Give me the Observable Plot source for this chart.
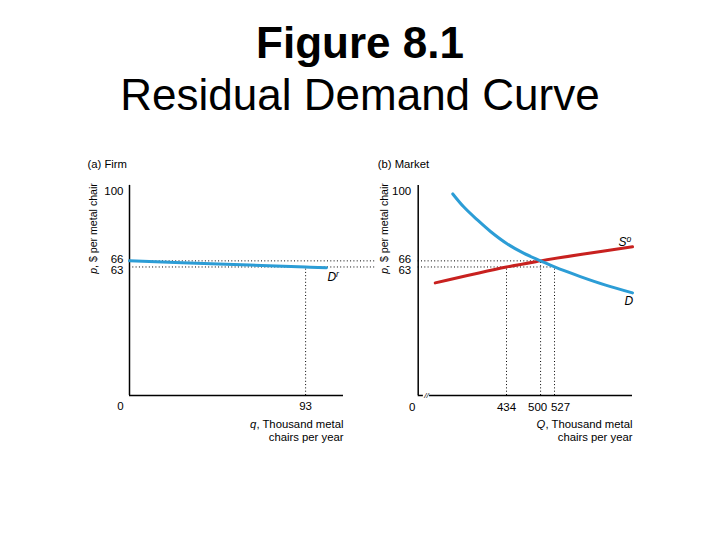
<!DOCTYPE html>
<html>
<head>
<meta charset="utf-8">
<script src="https://cdn.jsdelivr.net/npm/d3@7"></script>
<script src="https://cdn.jsdelivr.net/npm/@observablehq/plot@0.6"></script>
<style>
  html, body { margin: 0; padding: 0; background: #fff; }
  #page { position: relative; width: 720px; height: 540px; overflow: hidden;
          font-family: "Liberation Sans", Arial, Helvetica, sans-serif; color: #000; }
  .title { position: absolute; left: 0; top: 17px; width: 720px; text-align: center;
           font-size: 44px; line-height: 52px; }
  .title b { font-weight: bold; }
  .panel { position: absolute; top: 140px; height: 320px; overflow: visible; }
  .panel svg { overflow: visible; }
</style>
</head>
<body>
<div id="page">
  <div class="title"><b>Figure 8.1</b><br>Residual Demand Curve</div>
  <div class="panel" id="firm" style="left:0;width:420px"></div>
  <div class="panel" id="market" style="left:360px;width:360px"></div>
</div>
<script>
// ---- shared price axis (dollars per metal chair) ----
const priceTicks = [100, 66, 63];
const priceAxisTop = 103;
const priceLabel = "_p_, $ per metal chair";

// ---- (a) the firm's residual demand ----
const firmTitle = "(a) Firm";
const firmQ = [0, 47, 93, 104];
const firmP = [66, 64.5, 63, 62.6];
const firmQTicks = [93];
const firmQAxisEnd = 113;
const firmQFrameEnd = 130.7;   // price guides run on toward the market panel
const firmCurveLabel = "D^r";
const firmXLabel = "_q_, Thousand metal\nchairs per year";

// ---- (b) the market: demand D and other firms' supply S° ----
const marketTitle = "(b) Market";
const demandQ = [330, 351, 377, 403, 435, 467, 500, 527, 577, 626, 678];
const demandP = [98.8, 92.5, 86.2, 80.4, 74.4, 69.8, 66, 63, 58.3, 54.1, 50.3];
const supplyQ = [296, 434, 500, 577, 678];
const supplyP = [55.2, 63, 66, 69.1, 72.9];
const marketQTicks = [434, 500, 527];
const marketQ0 = 263;          // broken axis: origin stands in for 0
const marketQEnd = 678;
const marketBreak = [273, 285];
const demandLabel = "D";
const supplyLabel = "S^o";
const marketXLabel = "_Q_, Thousand metal\nchairs per year";

// equilibrium and the quantities supplied / demanded at p = 63
const eqP = 66, eqQ = 500;
const lowP = 63, lowSupplyQ = 434, lowDemandQ = 527;

// ---- styles ----
const blue = "#2c9dd6";
const red = "#c8211f";
const font = "'Liberation Sans', Arial, Helvetica, sans-serif";
const dotted = {stroke: "#000", strokeWidth: 1, strokeDasharray: "1,2.3"};
const axisLine = {stroke: "#000", strokeWidth: 1.5};
const tickFont = 11.5;
const textFont = 11.3;
const sideFont = 10.6;

const pts = (qs, ps) => qs.map((q, i) => ({q, p: ps[i]}));
const firmPts = pts(firmQ, firmP);
const demandPts = pts(demandQ, demandP);
const supplyPts = pts(supplyQ, supplyP);

function priceAxis(pad) {
  const o = {tickSize: 0, tickPadding: pad, fontSize: tickFont, label: null};
  return [
    Plot.axisY([priceTicks[0]], o),
    Plot.axisY([priceTicks[1]], {...o, dy: -2}),
    Plot.axisY([priceTicks[2]], {...o, dy: 3})
  ];
}

// rotated price label and the panel heading, both placed from the frame's top-left corner
function panelLabels(title, dxLabel, dxTitle) {
  return [
    Plot.text([priceLabel], {frameAnchor: "top-left", text: d => d, rotate: -90,
      textAnchor: "middle", lineAnchor: "middle", dx: dxLabel, dy: 37, fontSize: sideFont}),
    Plot.text([title], {frameAnchor: "top-left", text: d => d, textAnchor: "start",
      lineAnchor: "middle", dx: dxTitle, dy: -27, fontSize: textFont})
  ];
}

const common = {
  height: 320, marginTop: 51, marginBottom: 65,
  y: {domain: [0, 100]},
  style: {fontFamily: font, fontSize: tickFont + "px", background: "transparent", overflow: "visible"}
};

// (a) Firm
const firmPlot = Plot.plot({
  ...common,
  width: 420, marginLeft: 129, marginRight: 43.5,
  x: {domain: [0, firmQFrameEnd]},
  marks: [
    Plot.ruleY([eqP, lowP], dotted),
    Plot.ruleX([{q: firmQTicks[0], p: lowP}], {x: "q", y1: 0, y2: "p", ...dotted}),
    Plot.ruleX([0], {y1: 0, y2: priceAxisTop, ...axisLine}),
    Plot.ruleY([0], {x1: 0, x2: firmQAxisEnd, ...axisLine}),
    Plot.line(firmPts, {x: "q", y: "p", stroke: blue, strokeWidth: 3, curve: "catmull-rom"}),
    Plot.text([firmPts[firmPts.length - 1]], {x: "q", y: "p", text: () => firmCurveLabel,
      textAnchor: "start", dx: 1, dy: 9, fontStyle: "italic", fontSize: 12}),
    ...priceAxis(6),
    Plot.axisX(firmQTicks, {tickSize: 0, tickPadding: 6, fontSize: tickFont, label: null}),
    Plot.axisX([0], {tickSize: 0, tickPadding: 6, dx: -9, fontSize: tickFont, label: null}),
    Plot.text([firmXLabel], {x: firmQAxisEnd, y: 0, text: d => d, textAnchor: "end",
      lineAnchor: "top", dy: 23.5, lineHeight: 1.16, fontSize: textFont}),
    ...panelLabels(firmTitle, -35.5, -42)
  ]
});

// (b) Market
const marketPlot = Plot.plot({
  ...common,
  width: 360, marginLeft: 57.7, marginRight: 88,
  x: {domain: [marketQ0, marketQEnd]},
  marks: [
    Plot.ruleY([{p: eqP, q: eqQ}, {p: lowP, q: lowDemandQ}], {y: "p", x1: marketQ0, x2: "q", ...dotted}),
    Plot.ruleX([{q: lowSupplyQ, p: lowP}, {q: eqQ, p: eqP}, {q: lowDemandQ, p: lowP}],
      {x: "q", y1: 0, y2: "p", ...dotted}),
    Plot.ruleX([marketQ0], {y1: 0, y2: priceAxisTop, ...axisLine}),
    Plot.ruleY([0], {x1: marketQ0, x2: marketBreak[0], ...axisLine}),
    Plot.ruleY([0], {x1: marketBreak[1], x2: marketQEnd, ...axisLine}),
    Plot.text(["//"], {x: (marketBreak[0] + marketBreak[1]) / 2, y: 0, text: d => d,
      fontSize: 8, fontStyle: "italic", dy: -0.5}),
    Plot.line(supplyPts, {x: "q", y: "p", stroke: red, strokeWidth: 3, curve: "catmull-rom"}),
    Plot.line(demandPts, {x: "q", y: "p", stroke: blue, strokeWidth: 3, curve: "catmull-rom"}),
    Plot.text([supplyPts[supplyPts.length - 1]], {x: "q", y: "p", text: () => supplyLabel,
      textAnchor: "start", dx: -14, dy: -5, fontStyle: "italic", fontSize: 12}),
    Plot.text([demandPts[demandPts.length - 1]], {x: "q", y: "p", text: () => demandLabel,
      textAnchor: "start", dx: -8, dy: 8, fontStyle: "italic", fontSize: 12}),
    ...priceAxis(7),
    Plot.axisX([marketQTicks[0]], {tickSize: 0, tickPadding: 7, fontSize: tickFont, label: null}),
    Plot.axisX([marketQTicks[1]], {tickSize: 0, tickPadding: 7, dx: -3, fontSize: tickFont, label: null}),
    Plot.axisX([marketQTicks[2]], {tickSize: 0, tickPadding: 7, dx: 6, fontSize: tickFont, label: null}),
    Plot.axisX([marketQ0], {tickSize: 0, tickPadding: 7, dx: -6, tickFormat: () => "0",
      fontSize: tickFont, label: null}),
    Plot.text([marketXLabel], {x: marketQEnd, y: 0, text: d => d, textAnchor: "end",
      lineAnchor: "top", dy: 23.5, lineHeight: 1.16, fontSize: textFont}),
    ...panelLabels(marketTitle, -33.5, -40.5)
  ]
});

document.getElementById("firm").appendChild(firmPlot);
document.getElementById("market").appendChild(marketPlot);

// Inline markup in labels: _x_ -> italic, ^x -> superscript
function richText(node) {
  const s = node.textContent;
  node.textContent = "";
  const re = /_([^_]+)_|\^(.+)$|([^_^]+)/g;
  let m;
  while ((m = re.exec(s))) {
    const span = document.createElementNS("http://www.w3.org/2000/svg", "tspan");
    if (m[1] != null) {
      span.setAttribute("font-style", "italic");
      span.textContent = m[1];
    } else if (m[2] != null) {
      span.setAttribute("dy", "-0.45em");
      span.setAttribute("font-size", "0.72em");
      span.textContent = m[2];
    } else {
      span.textContent = m[3];
    }
    node.appendChild(span);
  }
}
d3.selectAll("#page svg text, #page svg tspan")
  .filter(function () { return this.children.length === 0 && /[_^]/.test(this.textContent); })
  .each(function () { richText(this); });
</script>
</body>
</html>
